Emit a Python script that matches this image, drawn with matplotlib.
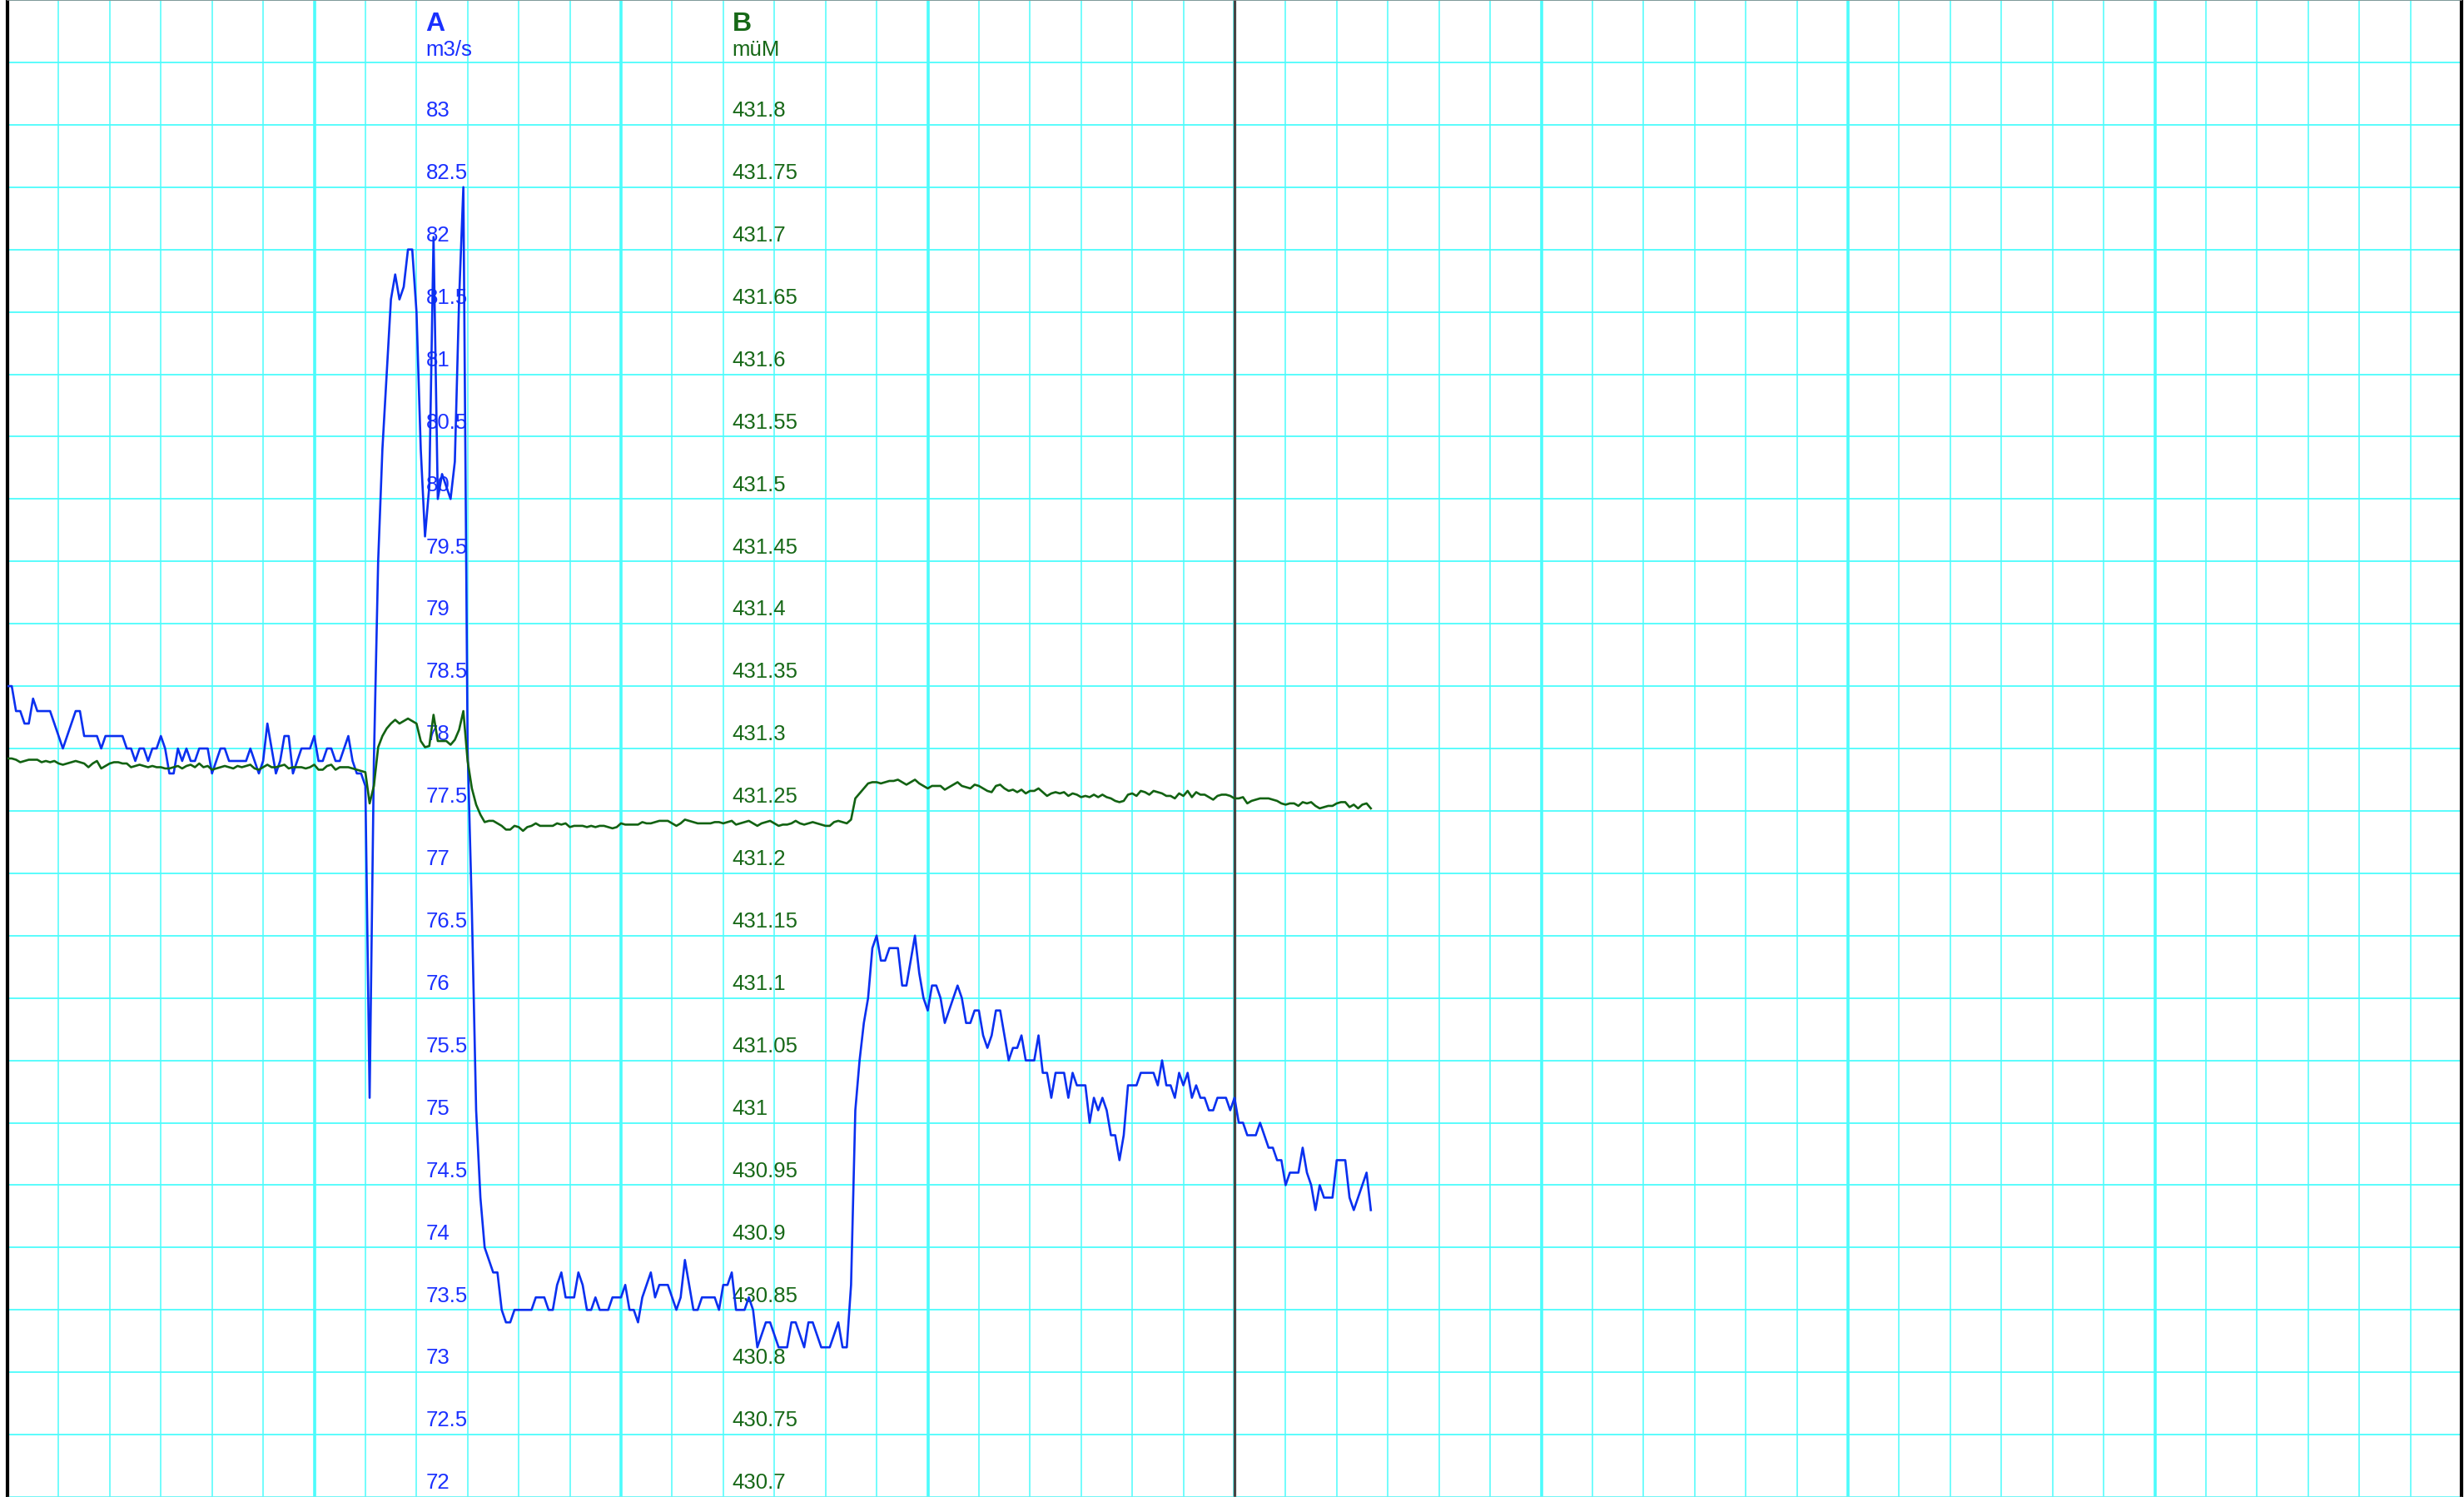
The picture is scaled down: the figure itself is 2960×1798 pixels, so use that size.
import numpy as np
import matplotlib
matplotlib.use("Agg")
from matplotlib import pyplot as plt

plt.rcParams['font.family'] = ['Liberation Sans', 'DejaVu Sans']

# flow A (m3/s), one sample per step
FLOW_A = [
    78.5, 78.5, 78.3, 78.3, 78.2, 78.2, 78.4, 78.3, 78.3, 78.3,
    78.3, 78.2, 78.1, 78.0, 78.1, 78.2, 78.3, 78.3, 78.1, 78.1,
    78.1, 78.1, 78.0, 78.1, 78.1, 78.1, 78.1, 78.1, 78.0, 78.0,
    77.9, 78.0, 78.0, 77.9, 78.0, 78.0, 78.1, 78.0, 77.8, 77.8,
    78.0, 77.9, 78.0, 77.9, 77.9, 78.0, 78.0, 78.0, 77.8, 77.9,
    78.0, 78.0, 77.9, 77.9, 77.9, 77.9, 77.9, 78.0, 77.9, 77.8,
    77.9, 78.2, 78.0, 77.8, 77.9, 78.1, 78.1, 77.8, 77.9, 78.0,
    78.0, 78.0, 78.1, 77.9, 77.9, 78.0, 78.0, 77.9, 77.9, 78.0,
    78.1, 77.9, 77.8, 77.8, 77.7, 75.2, 77.9, 79.5, 80.4, 81.0,
    81.6, 81.8, 81.6, 81.7, 82.0, 82.0, 81.5, 80.4, 79.7, 80.1,
    82.1, 80.0, 80.2, 80.1, 80.0, 80.3, 81.6, 82.5, 78.0, 76.7,
    75.1, 74.4, 74.0, 73.9, 73.8, 73.8, 73.5, 73.4, 73.4, 73.5,
    73.5, 73.5, 73.5, 73.5, 73.6, 73.6, 73.6, 73.5, 73.5, 73.7,
    73.8, 73.6, 73.6, 73.6, 73.8, 73.7, 73.5, 73.5, 73.6, 73.5,
    73.5, 73.5, 73.6, 73.6, 73.6, 73.7, 73.5, 73.5, 73.4, 73.6,
    73.7, 73.8, 73.6, 73.7, 73.7, 73.7, 73.6, 73.5, 73.6, 73.9,
    73.7, 73.5, 73.5, 73.6, 73.6, 73.6, 73.6, 73.5, 73.7, 73.7,
    73.8, 73.5, 73.5, 73.5, 73.6, 73.5, 73.2, 73.3, 73.4, 73.4,
    73.3, 73.2, 73.2, 73.2, 73.4, 73.4, 73.3, 73.2, 73.4, 73.4,
    73.3, 73.2, 73.2, 73.2, 73.3, 73.4, 73.2, 73.2, 73.7, 75.1,
    75.5, 75.8, 76.0, 76.4, 76.5, 76.3, 76.3, 76.4, 76.4, 76.4,
    76.1, 76.1, 76.3, 76.5, 76.2, 76.0, 75.9, 76.1, 76.1, 76.0,
    75.8, 75.9, 76.0, 76.1, 76.0, 75.8, 75.8, 75.9, 75.9, 75.7,
    75.6, 75.7, 75.9, 75.9, 75.7, 75.5, 75.6, 75.6, 75.7, 75.5,
    75.5, 75.5, 75.7, 75.4, 75.4, 75.2, 75.4, 75.4, 75.4, 75.2,
    75.4, 75.3, 75.3, 75.3, 75.0, 75.2, 75.1, 75.2, 75.1, 74.9,
    74.9, 74.7, 74.9, 75.3, 75.3, 75.3, 75.4, 75.4, 75.4, 75.4,
    75.3, 75.5, 75.3, 75.3, 75.2, 75.4, 75.3, 75.4, 75.2, 75.3,
    75.2, 75.2, 75.1, 75.1, 75.2, 75.2, 75.2, 75.1, 75.2, 75.0,
    75.0, 74.9, 74.9, 74.9, 75.0, 74.9, 74.8, 74.8, 74.7, 74.7,
    74.5, 74.6, 74.6, 74.6, 74.8, 74.6, 74.5, 74.3, 74.5, 74.4,
    74.4, 74.4, 74.7, 74.7, 74.7, 74.4, 74.3, 74.4, 74.5, 74.6,
    74.3,
]

# level B (müM)
LEVEL_B = [
    431.292, 431.292, 431.291, 431.289, 431.290, 431.291, 431.291, 431.291, 431.289, 431.290,
    431.289, 431.290, 431.288, 431.287, 431.288, 431.289, 431.290, 431.289, 431.288, 431.285,
    431.288, 431.290, 431.284, 431.286, 431.288, 431.289, 431.289, 431.288, 431.288, 431.285,
    431.286, 431.287, 431.286, 431.285, 431.286, 431.285, 431.285, 431.284, 431.284, 431.285,
    431.286, 431.284, 431.286, 431.287, 431.285, 431.288, 431.285, 431.286, 431.283, 431.284,
    431.285, 431.286, 431.285, 431.284, 431.286, 431.285, 431.286, 431.287, 431.284, 431.283,
    431.285, 431.287, 431.285, 431.285, 431.286, 431.287, 431.284, 431.285, 431.285, 431.285,
    431.284, 431.285, 431.287, 431.283, 431.283, 431.286, 431.287, 431.283, 431.285, 431.285,
    431.285, 431.284, 431.283, 431.282, 431.281, 431.256, 431.270, 431.301, 431.310, 431.316,
    431.320, 431.323, 431.320, 431.322, 431.324, 431.322, 431.320, 431.306, 431.301, 431.302,
    431.327, 431.306, 431.306, 431.306, 431.303, 431.307, 431.315, 431.330, 431.290, 431.268,
    431.255, 431.247, 431.241, 431.242, 431.242, 431.240, 431.238, 431.235, 431.235, 431.238,
    431.237, 431.234, 431.237, 431.238, 431.240, 431.238, 431.238, 431.238, 431.238, 431.240,
    431.239, 431.240, 431.237, 431.238, 431.238, 431.238, 431.237, 431.238, 431.237, 431.238,
    431.238, 431.237, 431.236, 431.237, 431.240, 431.239, 431.239, 431.239, 431.239, 431.241,
    431.240, 431.240, 431.241, 431.242, 431.242, 431.242, 431.240, 431.238, 431.240, 431.243,
    431.242, 431.241, 431.240, 431.240, 431.240, 431.240, 431.241, 431.241, 431.240, 431.241,
    431.242, 431.239, 431.240, 431.241, 431.242, 431.240, 431.238, 431.240, 431.241, 431.242,
    431.240, 431.238, 431.239, 431.239, 431.240, 431.242, 431.240, 431.239, 431.240, 431.241,
    431.240, 431.239, 431.238, 431.238, 431.241, 431.242, 431.241, 431.240, 431.243, 431.260,
    431.264, 431.268, 431.272, 431.273, 431.273, 431.272, 431.273, 431.274, 431.274, 431.275,
    431.273, 431.271, 431.273, 431.275, 431.272, 431.270, 431.268, 431.270, 431.270, 431.270,
    431.267, 431.269, 431.271, 431.273, 431.270, 431.269, 431.268, 431.271, 431.270, 431.268,
    431.266, 431.265, 431.270, 431.271, 431.268, 431.266, 431.267, 431.265, 431.267, 431.264,
    431.266, 431.266, 431.268, 431.265, 431.262, 431.264, 431.265, 431.264, 431.265, 431.262,
    431.264, 431.263, 431.261, 431.262, 431.261, 431.263, 431.261, 431.263, 431.261, 431.260,
    431.258, 431.257, 431.258, 431.263, 431.264, 431.262, 431.266, 431.265, 431.263, 431.266,
    431.265, 431.264, 431.262, 431.262, 431.260, 431.264, 431.262, 431.266, 431.261, 431.265,
    431.263, 431.263, 431.261, 431.259, 431.262, 431.263, 431.263, 431.262, 431.260, 431.260,
    431.261, 431.256, 431.258, 431.259, 431.260, 431.260, 431.260, 431.259, 431.258, 431.256,
    431.255, 431.256, 431.256, 431.254, 431.257, 431.256, 431.257, 431.254, 431.252, 431.253,
    431.254, 431.254, 431.256, 431.257, 431.257, 431.253, 431.255, 431.252, 431.255, 431.256,
    431.252,
]

SAMPLES = np.arange(len(FLOW_A))

FLOW_TICKS = [72, 72.5, 73, 73.5, 74, 74.5, 75, 75.5, 76, 76.5, 77, 77.5,
              78, 78.5, 79, 79.5, 80, 80.5, 81, 81.5, 82, 82.5, 83]
LEVEL_TICKS = [430.7, 430.75, 430.8, 430.85, 430.9, 430.95, 431, 431.05, 431.1,
               431.15, 431.2, 431.25, 431.3, 431.35, 431.4, 431.45, 431.5, 431.55,
               431.6, 431.65, 431.7, 431.75, 431.8]

BLUE = '#0a30f0'
BLUE_TXT = '#1a30ff'
GREEN = '#126212'
GREEN_TXT = '#176817'
GRID = '#4cfcfc'

X_END = 576          # 8 major x 6 minor x 12 samples
LABEL_X_A = 98.2
LABEL_X_B = 170.1
LABEL_SIZE = 18.5
LABEL_LIFT = 7.0     # points above the grid line

fig = plt.figure(figsize=(29.6, 17.98), dpi=100)
ax = fig.add_axes([9 / 2960, 0, 2948 / 2960, 1])
ax.set_xlim(0, X_END)
ax.set_ylim(72, 84)

ax.set_xticks(np.arange(0, X_END + 1, 72))
ax.set_xticks(np.arange(0, X_END + 1, 12), minor=True)
ax.set_yticks(np.arange(72, 84.01, 0.5))
ax.tick_params(which='both', length=0, labelleft=False, labelbottom=False)
ax.grid(which='major', axis='x', color=GRID, lw=2.6, zorder=0)
ax.grid(which='minor', axis='x', color=GRID, lw=1.1, zorder=0)
ax.grid(which='major', axis='y', color=GRID, lw=1.3, zorder=0)
ax.set_axisbelow(True)

for side in ['left', 'right']:
    ax.spines[side].set_color('black')
    ax.spines[side].set_linewidth(3)
ax.spines['top'].set_color('#888888')
ax.spines['top'].set_linewidth(1.2)
ax.spines['bottom'].set_color('#dddddd')
ax.spines['bottom'].set_linewidth(1)

ax.axvline(288, color='#444444', lw=2.3, zorder=1)

ax2 = ax.twinx()
ax2.set_ylim(430.7, 431.9)
ax2.set_yticks([])
for s in ax2.spines.values():
    s.set_visible(False)

# tick labels drawn inside the plot, sitting above their grid lines
for v in FLOW_TICKS:
    ax.annotate('%g' % v, xy=(LABEL_X_A, v), xytext=(0, LABEL_LIFT), textcoords='offset points',
                ha='left', va='baseline', fontsize=LABEL_SIZE, color=BLUE_TXT, zorder=1.5,
                annotation_clip=False)
ax.annotate('m3/s', xy=(LABEL_X_A, 83.5), xytext=(0, LABEL_LIFT - 1.5), textcoords='offset points',
            ha='left', va='baseline', fontsize=LABEL_SIZE, color=BLUE_TXT, zorder=1.5)
ax.text(LABEL_X_A, 83.75, 'A', ha='left', va='baseline', fontsize=23,
        fontweight='bold', color=BLUE_TXT, zorder=1.5)

for v in LEVEL_TICKS:
    ax.annotate('%g' % v, xy=(LABEL_X_B, v), xycoords=ax2.transData, xytext=(0, LABEL_LIFT),
                textcoords='offset points', ha='left', va='baseline', fontsize=LABEL_SIZE,
                color=GREEN_TXT, zorder=1.5, annotation_clip=False)
ax.annotate('müM', xy=(LABEL_X_B, 431.85), xycoords=ax2.transData, xytext=(0, LABEL_LIFT - 1.5),
            textcoords='offset points', ha='left', va='baseline', fontsize=LABEL_SIZE,
            color=GREEN_TXT, zorder=1.5)
ax.text(LABEL_X_B, 431.875, 'B', transform=ax2.transData, ha='left', va='baseline',
        fontsize=23, fontweight='bold', color=GREEN_TXT, zorder=1.5)

ax.plot(SAMPLES, FLOW_A, color=BLUE, lw=1.9, zorder=3)
ax2.plot(SAMPLES, LEVEL_B, color=GREEN, lw=1.9)

fig.savefig('out.png', dpi=100)
